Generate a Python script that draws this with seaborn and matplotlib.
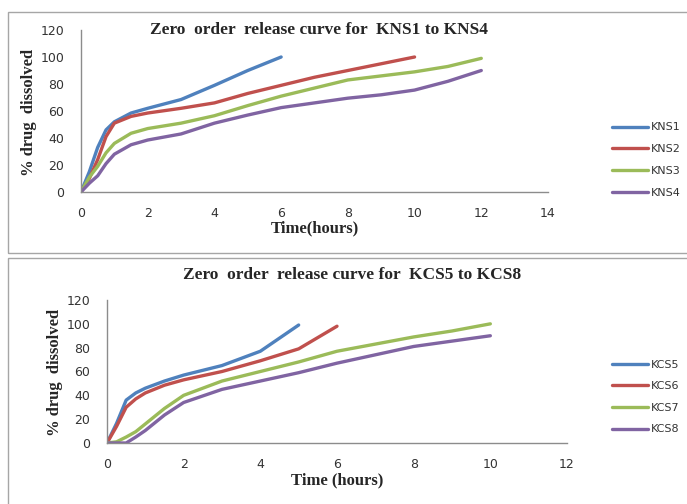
import matplotlib
matplotlib.use("Agg")
import matplotlib.pyplot as plt
from matplotlib.patches import Rectangle
import seaborn as sns
import pandas as pd

# ---- data ----
kns_labels = ["KNS1", "KNS2", "KNS3", "KNS4"]
kns1_t = [0, 0.25, 0.5, 0.75, 1, 1.5, 2, 3, 4, 5, 6]
kns1_v = [0, 15, 33, 46, 52, 58.5, 62, 68.5, 79, 90, 100]
kns2_t = [0, 0.25, 0.5, 0.75, 1, 1.5, 2, 3, 4, 5, 6, 7, 8, 9, 10]
kns2_v = [0, 10, 24, 41, 51, 56, 58.5, 62, 66, 73, 79, 85, 90, 95, 100]
kns3_t = [0, 0.25, 0.5, 0.75, 1, 1.5, 2, 3, 4, 5, 6, 7, 8, 9, 10, 11, 12]
kns3_v = [0, 11, 19, 29, 36, 43.5, 47, 51, 56.5, 64, 71, 77, 83, 86, 89, 93, 99]
kns4_t = [0, 0.25, 0.5, 0.75, 1, 1.5, 2, 3, 4, 5, 6, 7, 8, 9, 10, 11, 12]
kns4_v = [0, 6.5, 12, 21, 28, 35, 38.5, 43, 51, 57, 62.5, 66, 69.5, 72, 75.5, 82, 90]

kcs_labels = ["KCS5", "KCS6", "KCS7", "KCS8"]
kcs5_t = [0, 0.25, 0.5, 0.75, 1, 1.5, 2, 3, 4, 5]
kcs5_v = [0, 16.5, 36, 42, 46, 52, 57, 65, 77, 99]
kcs6_t = [0, 0.25, 0.5, 0.75, 1, 1.5, 2, 3, 4, 5, 6]
kcs6_v = [0, 14, 30, 37, 42, 48.5, 53, 60, 69, 79, 98]
kcs7_t = [0, 0.25, 0.5, 0.75, 1, 1.5, 2, 3, 4, 5, 6, 7, 8, 9, 10]
kcs7_v = [0, 1, 5, 9.5, 16, 29, 40, 52, 60, 68, 77, 83, 89, 94, 100]
kcs8_t = [0, 0.25, 0.5, 0.75, 1, 1.5, 2, 3, 4, 5, 6, 7, 8, 9, 10]
kcs8_v = [0, 0, 0, 5, 10.5, 23.5, 34, 45, 52, 59, 67, 74, 81, 85.5, 90]

top_title = "Zero  order  release curve for  KNS1 to KNS4"
bot_title = "Zero  order  release curve for  KCS5 to KCS8"
ylabel = "% drug  dissolved"
top_xlabel = "Time(hours)"
bot_xlabel = "Time (hours)"

colors = ["#4F81BD", "#C0504D", "#9BBB59", "#8064A2"]


def long_df(labels, ts, vs):
    rows = []
    for lab, t, v in zip(labels, ts, vs):
        for ti, vi in zip(t, v):
            rows.append({"series": lab, "time": ti, "value": vi})
    return pd.DataFrame(rows)


df_top = long_df(kns_labels, [kns1_t, kns2_t, kns3_t, kns4_t], [kns1_v, kns2_v, kns3_v, kns4_v])
df_bot = long_df(kcs_labels, [kcs5_t, kcs6_t, kcs7_t, kcs8_t], [kcs5_v, kcs6_v, kcs7_v, kcs8_v])

sns.set_style("white")
plt.rcParams["font.family"] = ["DejaVu Sans"]

W, H = 687, 504
fig = plt.figure(figsize=(W / 100, H / 100), dpi=100)

# panel borders
for (y0, y1) in [(12, 253), (258, 530)]:
    fig.patches.append(Rectangle((8 / W, 1 - y1 / H), (720 - 8) / W, (y1 - y0) / H,
                                 transform=fig.transFigure, fill=False,
                                 edgecolor="#A6A6A6", lw=1.0, zorder=0))

ax1 = fig.add_axes([81 / W, 1 - 192 / H, (548 - 81) / W, (192 - 30) / H])
ax2 = fig.add_axes([107 / W, 1 - 443 / H, (567 - 107) / W, (443 - 300) / H])

serif = ["Liberation Serif", "DejaVu Serif"]

for ax, df, labels, xmax, title, xlabel, tx, ty, ylx, yly, xly, legy in [
    (ax1, df_top, kns_labels, 14, top_title, top_xlabel, 319, 30, 29, 112, 228, 160),
    (ax2, df_bot, kcs_labels, 12, bot_title, bot_xlabel, 352, 275, 55, 372, 480, 397),
]:
    sns.lineplot(data=df, x="time", y="value", hue="series", hue_order=labels,
                 palette=colors, sort=False, lw=2.4, ax=ax, legend=True)
    ax.set_xlim(0, xmax)
    ax.set_ylim(0, 120)
    ax.set_xticks(range(0, xmax + 1, 2))
    ax.set_yticks(range(0, 121, 20))
    ax.set_xlabel("")
    ax.set_ylabel("")
    ax.patch.set_alpha(0)
    for s in ["top", "right"]:
        ax.spines[s].set_visible(False)
    for s in ["left", "bottom"]:
        ax.spines[s].set_color("#8C8C8C")
        ax.spines[s].set_linewidth(1.0)
    ax.tick_params(axis="both", direction="out", length=4, width=1, color="#8C8C8C",
                   labelsize=9, labelcolor="#333333", pad=5)
    ax.tick_params(axis="x", pad=7)
    ax.tick_params(axis="y", pad=8)

    fig.text(tx / W, 1 - ty / H, title, ha="center", va="center",
             family=serif, fontweight="bold", fontsize=12.5)
    fig.text(ylx / W, 1 - yly / H, ylabel, ha="center", va="center", rotation=90,
             family=serif, fontweight="bold", fontsize=12)
    fig.text(((81 + 548) / 2 if ax is ax1 else (107 + 567) / 2) / W, 1 - xly / H, xlabel,
             ha="center", va="center", family=serif, fontweight="bold", fontsize=12)

    handles, labs = ax.get_legend_handles_labels()
    ax.get_legend().remove()
    fig.legend(handles, labs, loc="center left", bbox_to_anchor=(612 / W, 1 - legy / H),
               frameon=False, fontsize=8, handlelength=3.2, handletextpad=0.3,
               labelspacing=1.05, borderpad=0, borderaxespad=0, labelcolor="#333333")

fig.savefig("out.png", dpi=100, facecolor="white")
